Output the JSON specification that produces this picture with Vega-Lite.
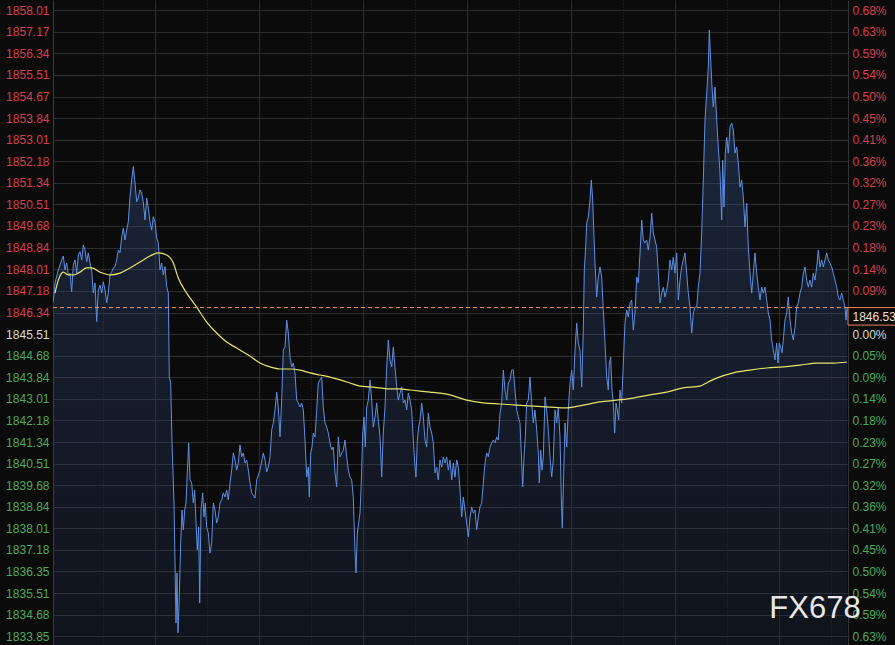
{
"$schema":"https://vega.github.io/schema/vega-lite/v6.json",
"width":795,"height":645,
"autosize":{"type":"none"},
"padding":{"left":53,"right":47,"top":0,"bottom":0},
"background":"#0b0b0b",
"config":{"view":{"stroke":null},"font":"Liberation Sans","axis":{"labelFont":"Liberation Sans","labelOverlap":false,"labelBound":false,"labelFlush":false}},
"datasets":{
"price":[{"t":0.3,"p":1846.76},{"t":2,"p":1847.48},{"t":5.3,"p":1847.98},{"t":8.7,"p":1848.37},{"t":10.3,"p":1848.52},{"t":12,"p":1847.98},{"t":13.7,"p":1848.25},{"t":15.3,"p":1847.79},{"t":17,"p":1847.86},{"t":18.7,"p":1847.14},{"t":20.3,"p":1848.17},{"t":22,"p":1848.37},{"t":23.7,"p":1847.86},{"t":25.3,"p":1848.56},{"t":27,"p":1848.69},{"t":28.7,"p":1848.37},{"t":30.3,"p":1848.94},{"t":32,"p":1848.75},{"t":33.7,"p":1848.30},{"t":35.3,"p":1848.64},{"t":37,"p":1848.25},{"t":38.7,"p":1847.98},{"t":40.3,"p":1847.09},{"t":42,"p":1847.48},{"t":43.7,"p":1845.99},{"t":45.3,"p":1847.21},{"t":47,"p":1847.40},{"t":48.7,"p":1847.09},{"t":50.3,"p":1847.53},{"t":52,"p":1847.21},{"t":53.7,"p":1846.71},{"t":55.3,"p":1847.09},{"t":57,"p":1847.79},{"t":58.7,"p":1847.91},{"t":60.3,"p":1848.06},{"t":62,"p":1848.11},{"t":63.7,"p":1848.37},{"t":65.3,"p":1848.75},{"t":67,"p":1848.64},{"t":68.7,"p":1849.26},{"t":70.3,"p":1849.59},{"t":72,"p":1849.14},{"t":73.7,"p":1849.52},{"t":75.3,"p":1849.84},{"t":77,"p":1850.81},{"t":78.7,"p":1851.45},{"t":80.3,"p":1851.97},{"t":82,"p":1851.34},{"t":83.7,"p":1850.61},{"t":85.3,"p":1850.76},{"t":87,"p":1851.07},{"t":88.7,"p":1850.95},{"t":90.3,"p":1850.61},{"t":92,"p":1849.91},{"t":93.7,"p":1850.76},{"t":95.3,"p":1850.37},{"t":97,"p":1849.84},{"t":98.7,"p":1849.52},{"t":100.3,"p":1850.04},{"t":102,"p":1849.84},{"t":103.7,"p":1849.21},{"t":105.3,"p":1849.02},{"t":107,"p":1847.98},{"t":108.7,"p":1848.25},{"t":110.3,"p":1847.79},{"t":112,"p":1848.11},{"t":113.7,"p":1847.34},{"t":115.3,"p":1847.09},{"t":116.3,"p":1843.86},{"t":117.7,"p":1843.62},{"t":119,"p":1841.31},{"t":121,"p":1838.99},{"t":122,"p":1836.68},{"t":123,"p":1834.36},{"t":124,"p":1836.29},{"t":125,"p":1833.98},{"t":126.3,"p":1835.36},{"t":127.7,"p":1837.45},{"t":129,"p":1838.72},{"t":130.3,"p":1837.95},{"t":131.7,"p":1838.72},{"t":133,"p":1838.99},{"t":134.3,"p":1840.15},{"t":135.7,"p":1841.31},{"t":137,"p":1839.88},{"t":138.7,"p":1839.76},{"t":140.3,"p":1838.99},{"t":141.7,"p":1839.49},{"t":143,"p":1838.22},{"t":144.3,"p":1837.18},{"t":145.7,"p":1838.06},{"t":146.7,"p":1835.13},{"t":148,"p":1838.72},{"t":149.7,"p":1839.38},{"t":151,"p":1838.45},{"t":152.3,"p":1838.99},{"t":153.7,"p":1838.06},{"t":155.3,"p":1837.83},{"t":157,"p":1837.06},{"t":158.7,"p":1837.45},{"t":160.3,"p":1838.99},{"t":162,"p":1838.72},{"t":163.7,"p":1838.22},{"t":165.3,"p":1838.45},{"t":167,"p":1838.99},{"t":168.7,"p":1839.11},{"t":170.3,"p":1839.38},{"t":172,"p":1839.22},{"t":173.7,"p":1839.49},{"t":175.3,"p":1839.11},{"t":177,"p":1839.76},{"t":178.7,"p":1840.26},{"t":180.3,"p":1840.92},{"t":182,"p":1840.65},{"t":183.7,"p":1840.26},{"t":185.3,"p":1840.53},{"t":187,"p":1841.23},{"t":188.7,"p":1840.77},{"t":190.3,"p":1840.92},{"t":192,"p":1840.53},{"t":193.7,"p":1840.65},{"t":195.3,"p":1840.26},{"t":197,"p":1839.76},{"t":198.7,"p":1839.38},{"t":202,"p":1839.18},{"t":203.7,"p":1839.88},{"t":207,"p":1840.26},{"t":210.3,"p":1840.92},{"t":212,"p":1840.65},{"t":213.7,"p":1840.19},{"t":215.3,"p":1840.38},{"t":217,"p":1840.77},{"t":218.7,"p":1841.81},{"t":220.3,"p":1842.08},{"t":222,"p":1842.58},{"t":223.7,"p":1843.27},{"t":225.3,"p":1842.69},{"t":227,"p":1841.54},{"t":228.7,"p":1842.96},{"t":230.3,"p":1844.89},{"t":232,"p":1845.01},{"t":233.7,"p":1846.05},{"t":235.3,"p":1845.55},{"t":237,"p":1844.62},{"t":238.7,"p":1844.24},{"t":240.3,"p":1844.39},{"t":242,"p":1844.01},{"t":243.7,"p":1842.96},{"t":245.3,"p":1842.85},{"t":247,"p":1842.69},{"t":248.7,"p":1842.85},{"t":250.3,"p":1842.58},{"t":252,"p":1841.42},{"t":253.7,"p":1839.99},{"t":255.3,"p":1840.38},{"t":256.3,"p":1839.22},{"t":257.7,"p":1840.92},{"t":259,"p":1841.15},{"t":260.3,"p":1841.69},{"t":262,"p":1841.54},{"t":263.7,"p":1842.58},{"t":265.3,"p":1843.62},{"t":267,"p":1843.74},{"t":268.7,"p":1843.85},{"t":270.3,"p":1842.69},{"t":272,"p":1842.08},{"t":273.7,"p":1841.92},{"t":275.3,"p":1841.69},{"t":277,"p":1841.31},{"t":278.7,"p":1841.04},{"t":280.3,"p":1841.15},{"t":282,"p":1840.15},{"t":283.7,"p":1839.61},{"t":285.3,"p":1841.54},{"t":287,"p":1840.77},{"t":288.7,"p":1840.92},{"t":290.3,"p":1841.04},{"t":292,"p":1841.42},{"t":293.7,"p":1840.77},{"t":295.3,"p":1840.26},{"t":297,"p":1839.99},{"t":298.7,"p":1839.88},{"t":300.3,"p":1839.22},{"t":302,"p":1837.06},{"t":303,"p":1836.29},{"t":304.3,"p":1837.83},{"t":305.7,"p":1838.22},{"t":307,"p":1838.60},{"t":308.3,"p":1839.76},{"t":309.7,"p":1841.69},{"t":311,"p":1842.31},{"t":312.3,"p":1841.15},{"t":313.7,"p":1842.69},{"t":315.3,"p":1842.96},{"t":317,"p":1843.74},{"t":318.7,"p":1842.96},{"t":320.3,"p":1841.92},{"t":322,"p":1842.31},{"t":323.7,"p":1842.85},{"t":325.3,"p":1842.19},{"t":327,"p":1841.54},{"t":328.7,"p":1839.99},{"t":330.3,"p":1841.69},{"t":332,"p":1842.69},{"t":333.7,"p":1844.24},{"t":335.3,"p":1845.28},{"t":337,"p":1844.51},{"t":338.7,"p":1844.24},{"t":340.3,"p":1845.01},{"t":342,"p":1844.24},{"t":343.7,"p":1843.47},{"t":345.3,"p":1842.96},{"t":347,"p":1843.23},{"t":348.7,"p":1843.47},{"t":350.3,"p":1842.85},{"t":352,"p":1842.96},{"t":353.7,"p":1842.58},{"t":355.3,"p":1843.23},{"t":357,"p":1842.96},{"t":358.7,"p":1842.58},{"t":360.3,"p":1841.42},{"t":362,"p":1840.38},{"t":363,"p":1839.99},{"t":364.3,"p":1841.42},{"t":365.7,"p":1841.92},{"t":367,"p":1842.19},{"t":368.7,"p":1842.85},{"t":370.3,"p":1842.31},{"t":372,"p":1841.42},{"t":373.7,"p":1841.15},{"t":375.3,"p":1842.46},{"t":377,"p":1841.92},{"t":378.7,"p":1841.69},{"t":380.3,"p":1841.31},{"t":382,"p":1840.15},{"t":383.7,"p":1840.38},{"t":385.3,"p":1839.88},{"t":387,"p":1840.65},{"t":388.7,"p":1840.38},{"t":390.3,"p":1840.77},{"t":392,"p":1840.53},{"t":393.7,"p":1840.77},{"t":395.3,"p":1840.26},{"t":397,"p":1840.65},{"t":398.7,"p":1839.88},{"t":400.3,"p":1840.53},{"t":402,"p":1839.99},{"t":403.7,"p":1840.65},{"t":405.3,"p":1840.38},{"t":407,"p":1839.49},{"t":408.7,"p":1838.45},{"t":410.3,"p":1839.22},{"t":412,"p":1838.72},{"t":413.7,"p":1838.22},{"t":415.3,"p":1837.68},{"t":417,"p":1838.45},{"t":418.7,"p":1838.84},{"t":420.3,"p":1838.60},{"t":422,"p":1838.72},{"t":423.7,"p":1837.95},{"t":425.3,"p":1838.45},{"t":427,"p":1838.84},{"t":428.7,"p":1838.99},{"t":430.3,"p":1839.76},{"t":432,"p":1840.53},{"t":433.7,"p":1840.92},{"t":435.3,"p":1840.77},{"t":437,"p":1841.15},{"t":438.7,"p":1841.31},{"t":440.3,"p":1841.42},{"t":442,"p":1841.31},{"t":443.7,"p":1841.54},{"t":445.3,"p":1841.42},{"t":447,"p":1842.46},{"t":448.7,"p":1842.85},{"t":450.3,"p":1844.12},{"t":452,"p":1843.35},{"t":453.7,"p":1842.96},{"t":455.3,"p":1843.62},{"t":457,"p":1843.74},{"t":458.7,"p":1844.12},{"t":460.3,"p":1844.12},{"t":462,"p":1843.35},{"t":463.7,"p":1842.58},{"t":465.3,"p":1842.31},{"t":467,"p":1842.08},{"t":468.7,"p":1840.53},{"t":469.7,"p":1839.61},{"t":471,"p":1840.77},{"t":472.3,"p":1841.54},{"t":473.7,"p":1842.85},{"t":475.3,"p":1842.96},{"t":477,"p":1843.85},{"t":478.7,"p":1842.85},{"t":480.3,"p":1842.08},{"t":482,"p":1842.58},{"t":483.7,"p":1841.81},{"t":485.3,"p":1840.92},{"t":486.3,"p":1839.76},{"t":487.7,"p":1841.04},{"t":489,"p":1840.26},{"t":490.3,"p":1840.77},{"t":492,"p":1843.08},{"t":493.7,"p":1842.58},{"t":495.3,"p":1841.81},{"t":497,"p":1840.77},{"t":498.7,"p":1839.99},{"t":500.3,"p":1840.65},{"t":502,"p":1842.58},{"t":503.7,"p":1842.08},{"t":505.3,"p":1842.69},{"t":507,"p":1841.54},{"t":508.3,"p":1839.22},{"t":509.3,"p":1838.03},{"t":510.3,"p":1839.49},{"t":512,"p":1842.08},{"t":513.7,"p":1841.15},{"t":515.3,"p":1842.58},{"t":517,"p":1843.62},{"t":518.7,"p":1844.12},{"t":520.3,"p":1843.35},{"t":522,"p":1844.89},{"t":523.7,"p":1845.93},{"t":525.3,"p":1845.16},{"t":527,"p":1844.89},{"t":528.7,"p":1843.47},{"t":530.3,"p":1845.66},{"t":531.3,"p":1847.98},{"t":532.7,"p":1848.87},{"t":533.7,"p":1849.79},{"t":535.3,"p":1850.02},{"t":537,"p":1850.68},{"t":538.3,"p":1851.45},{"t":539.7,"p":1850.68},{"t":541,"p":1849.25},{"t":542.3,"p":1847.98},{"t":543.7,"p":1846.94},{"t":545.3,"p":1847.71},{"t":547,"p":1848.10},{"t":548.7,"p":1847.71},{"t":550.3,"p":1846.44},{"t":552,"p":1845.16},{"t":553.7,"p":1843.85},{"t":555.3,"p":1843.35},{"t":556.3,"p":1844.39},{"t":557.7,"p":1844.62},{"t":559,"p":1843.35},{"t":560.3,"p":1842.85},{"t":561.7,"p":1841.69},{"t":563,"p":1842.85},{"t":564.3,"p":1842.58},{"t":565.7,"p":1842.19},{"t":567,"p":1843.35},{"t":568.7,"p":1842.85},{"t":570.3,"p":1844.39},{"t":572,"p":1845.93},{"t":573.7,"p":1846.44},{"t":575.3,"p":1846.17},{"t":577,"p":1846.71},{"t":578.7,"p":1846.82},{"t":580.3,"p":1845.66},{"t":582,"p":1846.32},{"t":583.7,"p":1847.71},{"t":585.3,"p":1847.48},{"t":587,"p":1848.64},{"t":588.7,"p":1849.91},{"t":590.3,"p":1849.14},{"t":592,"p":1849.02},{"t":593.7,"p":1849.14},{"t":595.3,"p":1848.75},{"t":597,"p":1849.25},{"t":598.7,"p":1850.18},{"t":600.3,"p":1849.41},{"t":602,"p":1849.14},{"t":603.7,"p":1848.87},{"t":605.3,"p":1847.86},{"t":607,"p":1846.71},{"t":608.7,"p":1847.09},{"t":610.3,"p":1847.32},{"t":612,"p":1846.94},{"t":613.7,"p":1847.21},{"t":615.3,"p":1847.59},{"t":617,"p":1848.37},{"t":618.7,"p":1847.98},{"t":620.3,"p":1848.48},{"t":622,"p":1847.86},{"t":623.7,"p":1848.64},{"t":625.3,"p":1846.82},{"t":627,"p":1847.59},{"t":628.7,"p":1848.10},{"t":630.3,"p":1848.37},{"t":632,"p":1848.64},{"t":633.7,"p":1847.86},{"t":635.3,"p":1847.09},{"t":637,"p":1846.55},{"t":638.7,"p":1845.55},{"t":640.3,"p":1846.32},{"t":642,"p":1846.55},{"t":643.7,"p":1846.55},{"t":645.3,"p":1847.32},{"t":647,"p":1847.86},{"t":648.7,"p":1849.41},{"t":650.3,"p":1851.45},{"t":652,"p":1853.77},{"t":653.7,"p":1854.81},{"t":655.3,"p":1855.81},{"t":656.3,"p":1857.24},{"t":657.7,"p":1856.08},{"t":659,"p":1855.04},{"t":660.3,"p":1854.27},{"t":662,"p":1855.04},{"t":663.7,"p":1853.77},{"t":665.3,"p":1852.73},{"t":667,"p":1851.72},{"t":668.7,"p":1849.91},{"t":669.7,"p":1852.22},{"t":671,"p":1850.41},{"t":672.3,"p":1852.49},{"t":673.7,"p":1853.11},{"t":675.3,"p":1852.49},{"t":677,"p":1853.50},{"t":678.7,"p":1853.65},{"t":680.3,"p":1853.38},{"t":682,"p":1852.49},{"t":683.7,"p":1852.73},{"t":685.3,"p":1852.11},{"t":687,"p":1851.18},{"t":688.7,"p":1851.45},{"t":690.3,"p":1850.80},{"t":692,"p":1849.64},{"t":693.7,"p":1850.56},{"t":695.3,"p":1848.87},{"t":697,"p":1847.86},{"t":698.7,"p":1847.09},{"t":700.3,"p":1847.86},{"t":702,"p":1848.64},{"t":703.7,"p":1847.86},{"t":705.3,"p":1847.32},{"t":707,"p":1846.82},{"t":708.7,"p":1847.32},{"t":710.3,"p":1847.09},{"t":712,"p":1847.32},{"t":713.7,"p":1846.82},{"t":715.3,"p":1846.32},{"t":717,"p":1846.05},{"t":718.7,"p":1845.28},{"t":720.3,"p":1844.89},{"t":722,"p":1844.51},{"t":723.7,"p":1845.16},{"t":725,"p":1844.39},{"t":726.3,"p":1845.16},{"t":727.7,"p":1845.01},{"t":729,"p":1844.78},{"t":730.3,"p":1845.28},{"t":732,"p":1846.05},{"t":733.7,"p":1846.32},{"t":735.3,"p":1846.94},{"t":737,"p":1846.05},{"t":738.7,"p":1845.55},{"t":740.3,"p":1845.28},{"t":742,"p":1845.78},{"t":743.7,"p":1846.55},{"t":745.3,"p":1846.71},{"t":747,"p":1847.09},{"t":748.7,"p":1847.32},{"t":750.3,"p":1847.86},{"t":752,"p":1848.10},{"t":753.7,"p":1847.59},{"t":755.3,"p":1847.32},{"t":757,"p":1847.59},{"t":758.7,"p":1847.32},{"t":760.3,"p":1847.86},{"t":762,"p":1847.59},{"t":763.7,"p":1848.10},{"t":765.3,"p":1848.75},{"t":767,"p":1848.10},{"t":768.7,"p":1848.37},{"t":770.3,"p":1848.10},{"t":772,"p":1848.37},{"t":773.7,"p":1848.64},{"t":775.3,"p":1848.37},{"t":777,"p":1848.25},{"t":778.7,"p":1848.10},{"t":780.3,"p":1847.86},{"t":782,"p":1847.59},{"t":783.7,"p":1847.32},{"t":785.3,"p":1846.94},{"t":787,"p":1846.82},{"t":788.7,"p":1847.09},{"t":790.3,"p":1846.82},{"t":792,"p":1846.55},{"t":793,"p":1846.05},{"t":794,"p":1846.53}],
"ma":[{"t":2,"p":1847.09},{"t":5.3,"p":1847.59},{"t":10.3,"p":1847.90},{"t":15.3,"p":1847.79},{"t":20.3,"p":1847.79},{"t":27,"p":1847.90},{"t":33.7,"p":1848.06},{"t":38.7,"p":1848.06},{"t":47,"p":1847.90},{"t":57,"p":1847.79},{"t":67,"p":1847.86},{"t":77,"p":1848.06},{"t":87,"p":1848.29},{"t":97,"p":1848.52},{"t":105.3,"p":1848.64},{"t":113.7,"p":1848.56},{"t":120.3,"p":1848.25},{"t":125.3,"p":1847.67},{"t":133.7,"p":1847.09},{"t":143.7,"p":1846.55},{"t":153.7,"p":1845.97},{"t":163.7,"p":1845.55},{"t":173.7,"p":1845.20},{"t":183.7,"p":1844.97},{"t":197,"p":1844.66},{"t":207,"p":1844.39},{"t":217,"p":1844.24},{"t":227,"p":1844.16},{"t":237,"p":1844.16},{"t":247,"p":1844.12},{"t":257,"p":1844.01},{"t":267,"p":1843.93},{"t":277,"p":1843.85},{"t":287,"p":1843.74},{"t":297,"p":1843.62},{"t":307,"p":1843.50},{"t":317,"p":1843.47},{"t":327,"p":1843.43},{"t":337,"p":1843.39},{"t":347,"p":1843.39},{"t":357,"p":1843.35},{"t":367,"p":1843.31},{"t":377,"p":1843.27},{"t":387,"p":1843.23},{"t":397,"p":1843.16},{"t":413.7,"p":1842.96},{"t":430.3,"p":1842.85},{"t":447,"p":1842.81},{"t":463.7,"p":1842.77},{"t":480.3,"p":1842.73},{"t":497,"p":1842.69},{"t":513.7,"p":1842.66},{"t":530.3,"p":1842.77},{"t":547,"p":1842.89},{"t":563.7,"p":1842.96},{"t":580.3,"p":1843.04},{"t":597,"p":1843.16},{"t":613.7,"p":1843.27},{"t":630.3,"p":1843.43},{"t":647,"p":1843.50},{"t":655.3,"p":1843.66},{"t":663.7,"p":1843.81},{"t":680.3,"p":1844.01},{"t":697,"p":1844.12},{"t":713.7,"p":1844.20},{"t":730.3,"p":1844.24},{"t":747,"p":1844.31},{"t":763.7,"p":1844.39},{"t":780.3,"p":1844.39},{"t":793.7,"p":1844.43}],
"last":[{"p":1846.53,"label":"1846.53"}]
},
"layer":[
{"data":{"name":"price"},
 "layer":[
 {"mark":{"type":"area","color":{"gradient":"linear","x1":0,"y1":0,"x2":0,"y2":1,"stops":[{"offset":0,"color":"rgba(64,96,160,0.36)"},{"offset":1,"color":"rgba(30,45,80,0.25)"}]}},
  "encoding":{"y2":{"datum":1833.51}}},
 {"mark":{"type":"line","color":"#5e8fe4","strokeWidth":1}}
 ],
 "encoding":{
  "x":{"field":"t","type":"quantitative","scale":{"domain":[0,795],"nice":false,"zero":false},
   "axis":{"values":[50,102,154,206,258,310,362,414,466,518,570,622,674,726,778],"grid":true,"labels":false,"ticks":false,"domain":false,"title":null,"gridColor":"#2c2c2c","gridWidth":1,
    "gridDash":{"condition":{"test":"(datum.value - 102) % 104 != 0","value":[1,2]},"value":[]}}},
  "y":{"field":"p","type":"quantitative","scale":{"domain":[1833.51,1858.40],"nice":false,"zero":false},
   "axis":{"values":[1858.01,1857.17,1856.34,1855.51,1854.67,1853.84,1853.01,1852.18,1851.34,1850.51,1849.68,1848.84,1848.01,1847.18,1846.34,1845.51,1844.68,1843.84,1843.01,1842.18,1841.34,1840.51,1839.68,1838.84,1838.01,1837.18,1836.35,1835.51,1834.68,1833.85],
    "labelExpr":"format(datum.value, '.2f')","title":null,"ticks":false,"labelPadding":4,"labelFontSize":12,"labelOverlap":false,"grid":true,"gridColor":"#2e2e2e","domain":true,"domainColor":"#3a3a3a",
    "labelColor":{"condition":[{"test":"datum.value > 1846","value":"#d6404e"},{"test":"datum.value > 1845","value":"#d8d8d8"}],"value":"#4daa5a"}}}}},
{"data":{"name":"ma"},
 "layer":[
 {"mark":{"type":"line","color":"#e6e46c","strokeWidth":1.2,"interpolate":"monotone"}}
 ],
 "encoding":{"x":{"field":"t","type":"quantitative","scale":{"domain":[0,795],"nice":false,"zero":false}},
  "y":{"field":"p","type":"quantitative","scale":{"domain":[1833.51,1858.40],"nice":false,"zero":false},"axis":null}}},
{"data":{"name":"last"},
 "layer":[
 {"mark":{"type":"rule","color":"#f09a50","strokeWidth":1,"strokeDash":[4,3]}},
 {"mark":{"type":"rect","fill":"#0b0b0b","stroke":"#e8875a","strokeWidth":1,"y2Offset":17.5},
  "encoding":{"x":{"datum":795,"type":"quantitative","scale":{"domain":[0,795],"nice":false,"zero":false}},"x2":{"datum":845},"y2":{"field":"p"}}},
 {"mark":{"type":"text","align":"left","baseline":"middle","dx":4.5,"dy":9,"fontSize":12,"font":"Liberation Sans","color":"#f2ddd0"},
  "encoding":{"x":{"datum":795,"type":"quantitative","scale":{"domain":[0,795],"nice":false,"zero":false}},"text":{"field":"label"}}},
 {"mark":{"type":"text","align":"center","baseline":"middle","fontSize":31,"font":"Liberation Sans","color":"#e8e8e8"},
  "encoding":{"x":{"datum":762,"type":"quantitative","scale":{"domain":[0,795],"nice":false,"zero":false}},"y":{"datum":1834.9,"type":"quantitative"},"text":{"value":"FX678"}}}
 ],
 "encoding":{"y":{"field":"p","type":"quantitative","scale":{"domain":[1833.51,1858.40],"nice":false,"zero":false},
   "axis":{"orient":"right","values":[1858.01,1857.17,1856.34,1855.51,1854.67,1853.84,1853.01,1852.18,1851.34,1850.51,1849.68,1848.84,1848.01,1847.18,1845.51,1844.68,1843.84,1843.01,1842.18,1841.34,1840.51,1839.68,1838.84,1838.01,1837.18,1836.35,1835.51,1834.68,1833.85],
    "labelExpr":"format(abs(datum.value - 1845.513) / 1845.513 * 100, '.2f') + '%'","title":null,"ticks":false,"grid":false,"labelPadding":4,"labelFontSize":12,"labelOverlap":false,"domain":true,"domainColor":"#333333",
    "labelColor":{"condition":[{"test":"datum.value > 1846","value":"#d6404e"},{"test":"datum.value > 1845","value":"#d8d8d8"}],"value":"#4daa5a"}}}}}
],
"resolve":{"scale":{"y":"independent"}}
}
